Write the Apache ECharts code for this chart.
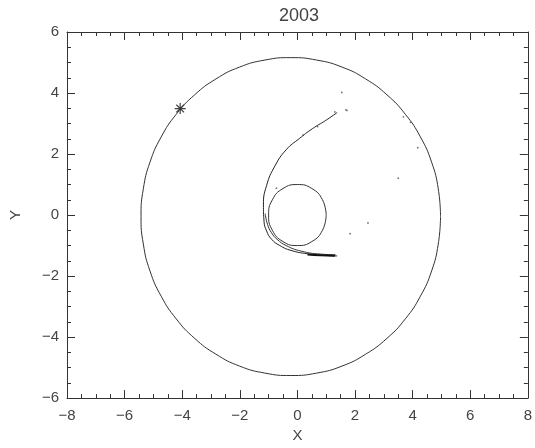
<!DOCTYPE html>
<html>
<head>
<meta charset="utf-8">
<script src="https://cdn.jsdelivr.net/npm/echarts@6/dist/echarts.min.js"></script>
<style>html,body{margin:0;padding:0;background:#fff}#c{width:535px;height:448px}</style>
</head>
<body>
<div id="c"></div>
<script>
const titleText = '2003';
const xTicks = [-8, -6, -4, -2, 0, 2, 4, 6, 8];
const yTicks = [-6, -4, -2, 0, 2, 4, 6];

// large orbit
const bigOrbit = [
  [4.97,-0.05],[4.89,0.86],[4.66,1.73],[4.27,2.56],[3.75,3.30],[3.11,3.94],[2.37,4.46],
  [1.55,4.85],[0.67,5.08],[-0.23,5.16],[-1.13,5.08],[-2.01,4.85],[-2.83,4.46],[-3.57,3.94],
  [-4.21,3.30],[-4.73,2.56],[-5.12,1.73],[-5.35,0.86],[-5.43,-0.05],[-5.35,-0.95],[-5.12,-1.83],
  [-4.73,-2.66],[-4.21,-3.40],[-3.57,-4.04],[-2.83,-4.56],[-2.01,-4.95],[-1.13,-5.18],[-0.23,-5.26],
  [0.67,-5.18],[1.55,-4.95],[2.37,-4.56],[3.11,-4.04],[3.75,-3.40],[4.27,-2.66],[4.66,-1.83],
  [4.89,-0.95],[4.97,-0.05]
];
// small orbit
const smallOrbit = [
  [1.0,0.0],[0.87,0.5],[0.5,0.87],[0.0,1.0],[-0.5,0.87],[-0.87,0.5],[-1.0,0.0],
  [-0.87,-0.5],[-0.5,-0.87],[0.0,-1.0],[0.5,-0.87],[0.87,-0.5],[1.0,0.0]
];
// tail, outer strand
const tailOuter = [
  [1.38,3.36],[0.98,3.10],[0.52,2.83],[0.07,2.51],[-0.39,2.14],[-0.78,1.61],[-1.07,0.97],
  [-1.18,0.33],[-1.16,-0.20],[-1.07,-0.52],[-0.90,-0.79],[-0.61,-1.00],[-0.22,-1.16],
  [0.35,-1.27],[0.92,-1.32],[1.38,-1.34]
];
// tail, inner strand
const tailInner = [
  [-1.12,0.05],[-1.04,-0.30],[-0.90,-0.58],[-0.70,-0.80],[-0.39,-1.00],[0.12,-1.18],
  [0.81,-1.28],[1.32,-1.30]
];
// thick band at the tail end
const tailBand = [[0.35,-1.29],[0.80,-1.32],[1.30,-1.33]];
// scattered particles
const dots = [
  [1.54,4.02],[1.30,3.38],[1.68,3.45],[1.72,3.43],[3.68,3.22],[3.93,3.04],[4.18,2.21],
  [3.50,1.21],[2.45,-0.26],[1.83,-0.61],[-0.73,0.88],[0.20,2.62],[0.70,2.90]
];
// planet marker
const planet = [[-4.07,3.49]];

const fmt = v => (v < 0 ? '\u2212' + Math.abs(v) : String(v));
const axisCol = '#333';
const lab = {color:'#444', fontSize:15, fontFamily:'Liberation Sans, Arial, sans-serif'};

const chart = echarts.init(document.getElementById('c'));
const lineS = (data, w, col, smooth) => ({
  type:'line', data, showSymbol:false, smooth: smooth, silent:true,
  lineStyle:{color:col, width:w}, xAxisIndex:0, yAxisIndex:0
});
chart.setOption({
  animation:false,
  backgroundColor:'#fff',
  title:{text:titleText, left:294, top:2, textAlign:'center',
    textStyle:{color:'#444', fontSize:18, fontWeight:'normal', fontFamily:'Liberation Sans, Arial, sans-serif'}},
  grid:{left:60, right:6, top:32, bottom:40},
  xAxis:[
    {type:'value', min:-8, max:8, interval:2, position:'bottom',
     name:'X', nameLocation:'middle', nameGap:26, nameTextStyle:lab,
     axisLine:{show:true, onZero:false, lineStyle:{color:axisCol}},
     axisTick:{inside:true, length:8, lineStyle:{color:axisCol}},
     minorTick:{show:true, splitNumber:4, length:4, lineStyle:{color:axisCol}},
     splitLine:{show:false},
     axisLabel:Object.assign({formatter:fmt, margin:10}, lab)},
    {type:'value', min:-8, max:8, interval:2, position:'top',
     axisLine:{show:true, onZero:false, lineStyle:{color:axisCol}},
     axisTick:{inside:true, length:8, lineStyle:{color:axisCol}},
     minorTick:{show:true, splitNumber:4, length:4, lineStyle:{color:axisCol}},
     splitLine:{show:false}, axisLabel:{show:false}}
  ],
  yAxis:[
    {type:'value', min:-6, max:6, interval:2, position:'left',
     name:'Y', nameLocation:'middle', nameGap:44, nameRotate:90, nameTextStyle:lab,
     axisLine:{show:true, onZero:false, lineStyle:{color:axisCol}},
     axisTick:{inside:true, length:8, lineStyle:{color:axisCol}},
     minorTick:{show:true, splitNumber:4, length:4, lineStyle:{color:axisCol}},
     splitLine:{show:false},
     axisLabel:Object.assign({formatter:fmt, margin:8}, lab)},
    {type:'value', min:-6, max:6, interval:2, position:'right',
     axisLine:{show:true, onZero:false, lineStyle:{color:axisCol}},
     axisTick:{inside:true, length:8, lineStyle:{color:axisCol}},
     minorTick:{show:true, splitNumber:4, length:4, lineStyle:{color:axisCol}},
     splitLine:{show:false}, axisLabel:{show:false}}
  ],
  series:[
    lineS(bigOrbit, 1, '#333', true),
    lineS(smallOrbit, 1, '#333', true),
    lineS(tailOuter, 1, '#222', true),
    lineS(tailInner, 1, '#333', true),
    lineS(tailBand, 2, '#111', true),
    {type:'scatter', data:dots, symbolSize:1.8, itemStyle:{color:'#555'}, silent:true},
    {type:'scatter', data:planet, symbolSize:11, silent:true,
     symbol:'path://M0,-10L0,10M-10,0L10,0M-7,-7L7,7M-7,7L7,-7',
     itemStyle:{color:'none', borderColor:'#111', borderWidth:1.2}}
  ]
});
</script>
</body>
</html>
